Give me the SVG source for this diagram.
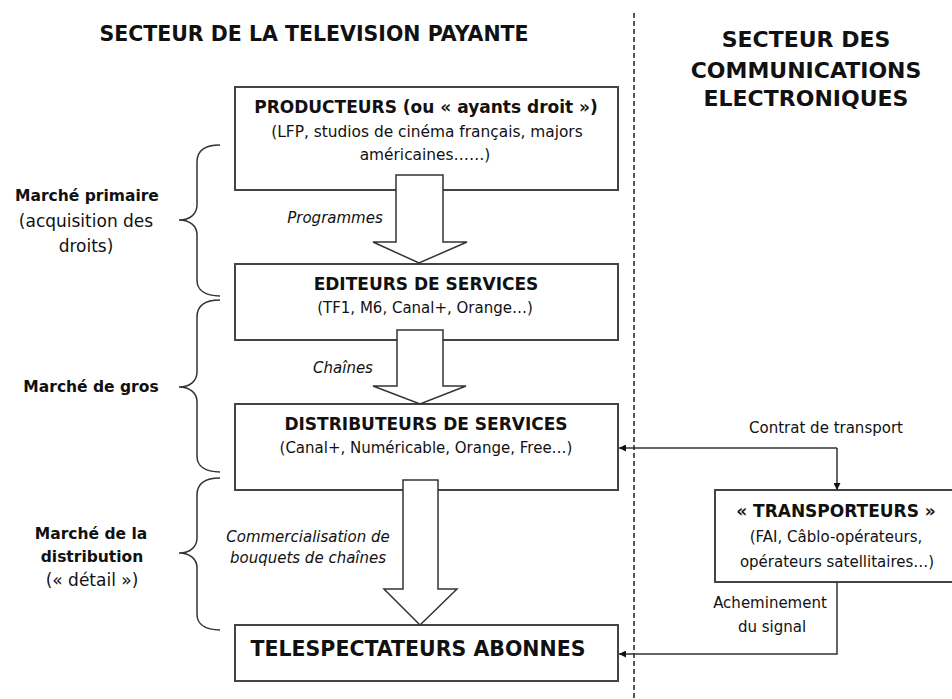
<svg xmlns="http://www.w3.org/2000/svg" width="952" height="699" viewBox="0 0 952 699">
<style>
text{font-family:"DejaVu Sans","Open Sans",sans-serif;fill:#111;text-anchor:middle}
.h{font-weight:bold;font-size:20.5px}
.b{font-weight:bold;font-size:17px}
.r{font-size:15px}
.i{font-style:italic;font-size:15px}
.lb{font-weight:bold;font-size:15.5px}
.lr{font-size:17px}
.box{fill:#fff;stroke:#444;stroke-width:2}
.arr{fill:#fff;stroke:#333;stroke-width:1.5}
.br{fill:none;stroke:#333;stroke-width:1.5}
.ln{fill:none;stroke:#333;stroke-width:1.5}
</style>
<defs>
<marker id="ah" viewBox="0 0 10 10" refX="10" refY="5" markerWidth="7" markerHeight="7" orient="auto" markerUnits="userSpaceOnUse">
<path d="M0,0 L10,5 L0,10 z" fill="#111"/>
</marker>
</defs>
<rect width="952" height="699" fill="#fff"/>
<g id="titles">
<text class="h" x="314" y="41">SECTEUR DE LA TELEVISION PAYANTE</text>
<text class="h" x="806" y="47" style="font-size:22px">SECTEUR DES</text>
<text class="h" x="806" y="78" style="font-size:22px">COMMUNICATIONS</text>
<text class="h" x="806" y="106" style="font-size:22px">ELECTRONIQUES</text>
</g>
<line x1="634" y1="13" x2="634" y2="699" stroke="#555" stroke-width="2" stroke-dasharray="5,3"/>
<g id="producteurs">
<rect class="box" x="235" y="87" width="383" height="103"/>
<text class="b" x="426" y="113">PRODUCTEURS (ou « ayants droit »)</text>
<text class="r" x="427" y="137" style="font-size:15.4px">(LFP, studios de cinéma français, majors</text>
<text class="r" x="425" y="160" style="font-size:15.4px">américaines……)</text>
</g>
<g id="editeurs">
<rect class="box" x="235" y="264" width="383" height="76"/>
<text class="b" x="426" y="290">EDITEURS DE SERVICES</text>
<text class="r" x="425" y="313">(TF1, M6, Canal+, Orange…)</text>
</g>
<g id="distributeurs">
<rect class="box" x="235" y="404" width="383" height="86"/>
<text class="b" x="426" y="430">DISTRIBUTEURS DE SERVICES</text>
<text class="r" x="426" y="453">(Canal+, Numéricable, Orange, Free…)</text>
</g>
<g id="telespectateurs">
<rect class="box" x="235" y="625" width="383" height="56"/>
<text class="h" x="418" y="656">TELESPECTATEURS ABONNES</text>
</g>
<g id="transporteurs">
<rect class="box" x="715" y="490" width="240" height="92"/>
<text class="b" x="836" y="517">« TRANSPORTEURS »</text>
<text class="r" x="836" y="542">(FAI, Câblo-opérateurs,</text>
<text class="r" x="837" y="567">opérateurs satellitaires…)</text>
</g>
<g id="connectors">
<path class="arr" d="M396,175 L443,175 L443,242 L467,242 L419,263 L373,242 L396,242 Z"/>
<path class="arr" d="M397,330 L443,330 L443,386 L466,386 L420,404 L373,386 L397,386 Z"/>
<path class="arr" d="M403,480 L438,480 L438,589 L457,589 L420,625 L384,589 L403,589 Z"/>
<path class="ln" d="M837,448 L619,448" marker-end="url(#ah)"/>
<path class="ln" d="M837,448 L837,490" marker-end="url(#ah)"/>
<path class="ln" d="M837,582 L837,654 L619,654" marker-end="url(#ah)"/>
<text class="r" x="826" y="433">Contrat de transport</text>
<text class="r" x="770" y="608">Acheminement</text>
<text class="r" x="772" y="632">du signal</text>
<text class="i" x="335" y="223">Programmes</text>
<text class="i" x="343" y="373">Chaînes</text>
<text class="i" x="308" y="542">Commercialisation de</text>
<text class="i" x="308" y="563">bouquets de chaînes</text>
</g>
<g id="brackets">
<path class="br" d="M220,145 C205,145 197,150 197,162 L197,205 C197,214 190,220 179,220 C190,220 197,226 197,235 L197,280 C197,290 205,296 220,296"/>
<path class="br" d="M220,300 C205,300 197,305 197,317 L197,372 C197,381 190,387 179,387 C190,387 197,393 197,402 L197,456 C197,466 205,472 220,472"/>
<path class="br" d="M220,478 C205,478 197,483 197,495 L197,538 C197,547 190,553 179,553 C190,553 197,559 197,568 L197,614 C197,624 205,630 220,630"/>
<text class="lb" x="87" y="201">Marché primaire</text>
<text class="lr" x="86" y="227">(acquisition des</text>
<text class="lr" x="86" y="252">droits)</text>
<text class="lb" x="91" y="392">Marché de gros</text>
<text class="lb" x="91" y="539">Marché de la</text>
<text class="lb" x="92" y="562">distribution</text>
<text class="lr" x="92" y="586">(« détail »)</text>
</g>
</svg>
